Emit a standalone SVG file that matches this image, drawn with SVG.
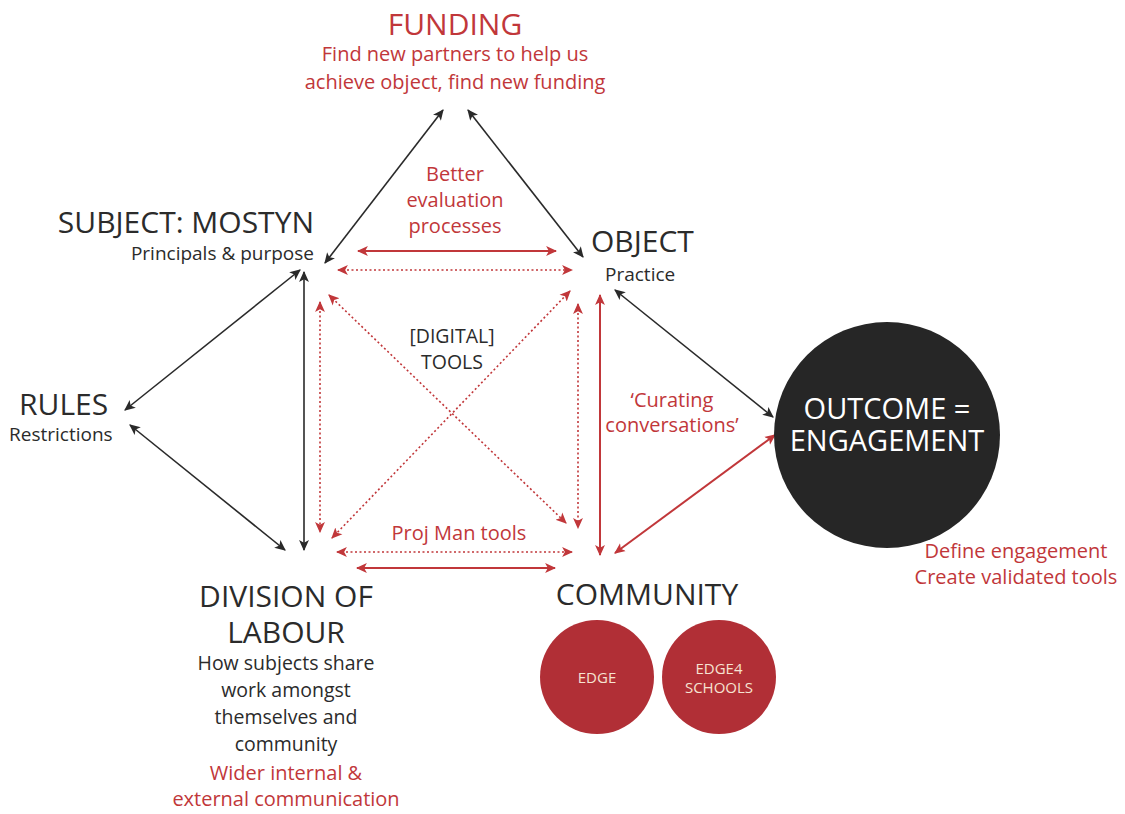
<svg xmlns="http://www.w3.org/2000/svg" width="1125" height="814" viewBox="0 0 1125 814">
<defs>
<marker id="ak" viewBox="0 0 10 10" refX="9" refY="5" markerWidth="11" markerHeight="11" markerUnits="userSpaceOnUse" orient="auto-start-reverse"><path d="M0,0.5 L10,5 L0,9.5 L2.5,5 z" fill="#2a2a2a"/></marker>
<marker id="ar" viewBox="0 0 10 10" refX="9" refY="5" markerWidth="11" markerHeight="11" markerUnits="userSpaceOnUse" orient="auto-start-reverse"><path d="M0,0.5 L10,5 L0,9.5 L2.5,5 z" fill="#c1373a"/></marker>
</defs>
<style>
text{font-family:"Open Sans","Noto Sans","Liberation Sans",sans-serif;}
.t{font-size:30px;fill:#2b2b2b;}
.s{font-size:19px;fill:#2b2b2b;}
.m{font-size:19.5px;fill:#2b2b2b;}
.r{font-size:20px;fill:#c1373a;}
.w{font-size:15px;fill:#f6e3d2;}
.blk{stroke:#2a2a2a;stroke-width:1.6;fill:none;marker-start:url(#ak);marker-end:url(#ak);}
.red{stroke:#c1373a;stroke-width:2;fill:none;marker-start:url(#ar);marker-end:url(#ar);}
.dot{stroke:#c1373a;stroke-width:1.6;stroke-dasharray:2 2.5;fill:none;marker-start:url(#ar);marker-end:url(#ar);}
</style>
<rect width="1125" height="814" fill="#ffffff"/>
<g id="connectors">
<line class="blk" x1="443" y1="110" x2="325" y2="263"/>
<line class="blk" x1="468" y1="110" x2="583" y2="257"/>
<line class="red" x1="358" y1="251" x2="556" y2="251"/>
<line class="dot" x1="338" y1="270" x2="572" y2="270"/>
<line class="blk" x1="300" y1="270" x2="125" y2="410"/>
<line class="blk" x1="130" y1="425" x2="285" y2="550"/>
<line class="blk" x1="304" y1="272" x2="304" y2="550"/>
<line class="dot" x1="320" y1="302" x2="320" y2="532"/>
<line class="dot" x1="329" y1="295" x2="566" y2="523"/>
<line class="dot" x1="570" y1="291" x2="332" y2="538"/>
<line class="dot" x1="578" y1="304" x2="578" y2="528"/>
<line class="red" x1="600" y1="295" x2="600" y2="555"/>
<line class="dot" x1="337" y1="552" x2="572" y2="552"/>
<line class="red" x1="357" y1="568" x2="555" y2="568"/>
<line class="blk" x1="615" y1="290" x2="773" y2="417"/>
<line class="red" x1="775" y1="435" x2="615" y2="553"/>
</g>
<g id="funding">
<text x="455" y="35" text-anchor="middle" style="font-size:30px;fill:#c1373a">FUNDING</text>
<text x="455" y="61" text-anchor="middle" class="r">Find new partners to help us</text>
<text x="455" y="89" text-anchor="middle" class="r">achieve object, find new funding</text>
</g>
<g id="evaluation">
<text x="455" y="181" text-anchor="middle" class="r">Better</text>
<text x="455" y="207" text-anchor="middle" class="r">evaluation</text>
<text x="455" y="233" text-anchor="middle" class="r">processes</text>
</g>
<g id="subject">
<text x="314" y="233" text-anchor="end" class="t">SUBJECT: MOSTYN</text>
<text x="314" y="260" text-anchor="end" class="s">Principals &amp; purpose</text>
</g>
<g id="object">
<text x="591" y="252" class="t">OBJECT</text>
<text x="605" y="281" class="s">Practice</text>
</g>
<g id="tools">
<text x="452" y="343" text-anchor="middle" class="m">[DIGITAL]</text>
<text x="452" y="369" text-anchor="middle" class="m">TOOLS</text>
</g>
<g id="rules">
<text x="19" y="415" class="t">RULES</text>
<text x="9" y="441" class="s">Restrictions</text>
</g>
<g id="curating">
<text x="672" y="407" text-anchor="middle" class="r">‘Curating</text>
<text x="672" y="432" text-anchor="middle" class="r">conversations’</text>
</g>
<g id="outcome">
<circle cx="887" cy="435" r="113" fill="#262626"/>
<text x="887" y="419" text-anchor="middle" style="font-size:29px;fill:#ffffff">OUTCOME =</text>
<text x="887" y="451" text-anchor="middle" style="font-size:29px;fill:#ffffff">ENGAGEMENT</text>
<text x="1016" y="558" text-anchor="middle" class="r">Define engagement</text>
<text x="1016" y="584" text-anchor="middle" class="r">Create validated tools</text>
</g>
<g id="projman">
<text x="459" y="540" text-anchor="middle" class="r">Proj Man tools</text>
</g>
<g id="division">
<text x="286" y="607" text-anchor="middle" class="t">DIVISION OF</text>
<text x="286" y="643" text-anchor="middle" class="t">LABOUR</text>
<text x="286" y="670" text-anchor="middle" class="m">How subjects share</text>
<text x="286" y="697" text-anchor="middle" class="m">work amongst</text>
<text x="286" y="724" text-anchor="middle" class="m">themselves and</text>
<text x="286" y="751" text-anchor="middle" class="m">community</text>
<text x="286" y="780" text-anchor="middle" class="r">Wider internal &amp;</text>
<text x="286" y="806" text-anchor="middle" class="r">external communication</text>
</g>
<g id="community">
<text x="647" y="605" text-anchor="middle" class="t">COMMUNITY</text>
</g>
<g id="edge">
<circle cx="597" cy="677" r="57" fill="#b12f36"/>
<text x="597" y="683" text-anchor="middle" class="w">EDGE</text>
</g>
<g id="edge4schools">
<circle cx="719" cy="677" r="57" fill="#b12f36"/>
<text x="719" y="674" text-anchor="middle" class="w">EDGE4</text>
<text x="719" y="693" text-anchor="middle" class="w">SCHOOLS</text>
</g>
</svg>
